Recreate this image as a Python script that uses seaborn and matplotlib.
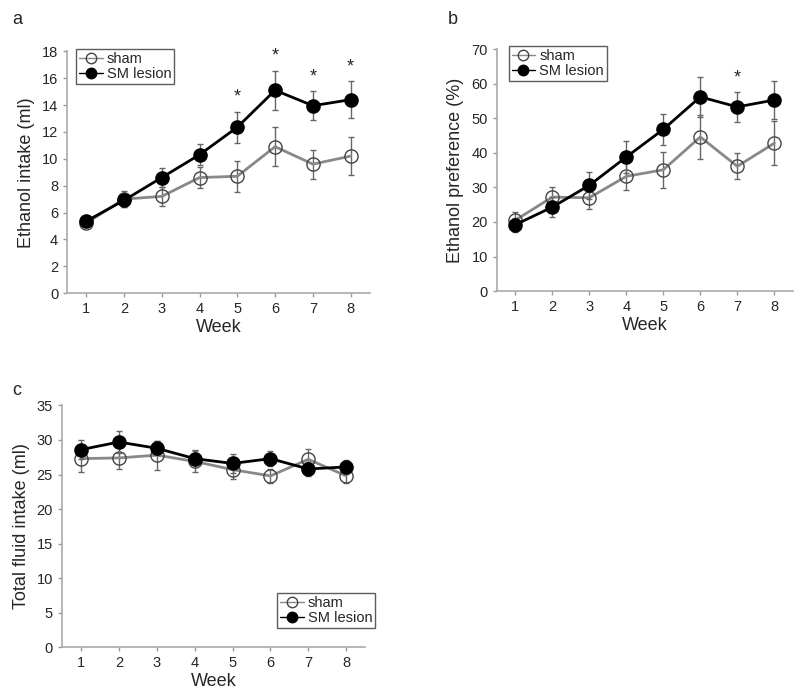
import matplotlib
matplotlib.use("Agg")
import matplotlib.pyplot as plt
from matplotlib.lines import Line2D
import pandas as pd
import seaborn as sns

sns.set_style("ticks")
plt.rcParams["font.family"] = ["Liberation Sans", "DejaVu Sans"]

weeks = [1, 2, 3, 4, 5, 6, 7, 8]
groups = ["sham", "SM lesion"]

# panel a: ethanol intake (ml)
intake_sham = [5.2, 7.0, 7.2, 8.6, 8.7, 10.9, 9.6, 10.2]
intake_sham_err = [0.3, 0.6, 0.7, 0.77, 1.15, 1.45, 1.07, 1.4]
intake_sm = [5.35, 6.9, 8.6, 10.3, 12.35, 15.1, 13.95, 14.4]
intake_sm_err = [0.3, 0.5, 0.7, 0.8, 1.15, 1.45, 1.07, 1.38]
intake_stars = [5, 6, 7, 8]

# panel b: ethanol preference (%)
pref_sham = [20.5, 27.2, 27.0, 33.2, 35.1, 44.6, 36.1, 42.8]
pref_sham_err = [2.3, 3.0, 3.2, 4.0, 5.2, 6.5, 3.8, 6.3]
pref_sm = [19.2, 24.3, 30.6, 38.8, 46.8, 56.2, 53.3, 55.3]
pref_sm_err = [2.0, 2.8, 4.0, 4.6, 4.5, 5.8, 4.3, 5.4]
pref_stars = [7]

# panel c: total fluid intake (ml)
fluid_sham = [27.3, 27.4, 27.8, 26.9, 25.7, 24.8, 27.2, 24.8]
fluid_sham_err = [1.9, 1.6, 2.1, 1.5, 1.3, 1.0, 1.5, 1.1]
fluid_sm = [28.6, 29.7, 28.8, 27.3, 26.6, 27.3, 25.8, 26.1]
fluid_sm_err = [1.4, 1.6, 1.0, 1.2, 1.4, 1.1, 1.0, 1.0]

styles = {
    "sham": dict(color="#888888", mfc="none", mec="#444444", zorder=2),
    "SM lesion": dict(color="black", mfc="black", mec="black", zorder=3),
}


def make_df(sham, sham_err, sm, sm_err):
    return pd.DataFrame({
        "week": weeks * 2,
        "group": [groups[0]] * 8 + [groups[1]] * 8,
        "value": sham + sm,
        "err": sham_err + sm_err,
    })


def panel(ax, df, ylim, yticks, ylabel, stars, legend_loc):
    for g in groups:
        d = df[df["group"] == g]
        st = styles[g]
        ax.errorbar(d["week"], d["value"], yerr=d["err"], fmt="none",
                    ecolor="#666666", elinewidth=1, capsize=2.5, capthick=1,
                    zorder=st["zorder"] - 0.5)
        sns.lineplot(data=d, x="week", y="value", ax=ax, color=st["color"],
                     linewidth=2.0, marker="o", markersize=9.5,
                     markerfacecolor=st["mfc"], markeredgecolor=st["mec"],
                     markeredgewidth=1, zorder=st["zorder"], legend=False)
    sm = df[df["group"] == "SM lesion"].set_index("week")
    for w in stars:
        top = sm.loc[w, "value"] + sm.loc[w, "err"]
        ax.text(w, top + (ylim[1] - ylim[0]) * 0.025, "*", ha="center",
                va="bottom", fontsize=13)
    ax.set_xlim(0.5, 8.5)
    ax.set_ylim(*ylim)
    ax.set_xticks(weeks)
    ax.set_yticks(yticks)
    ax.tick_params(labelsize=10.5, length=3, color="#999999", width=1)
    for s in ["left", "bottom"]:
        ax.spines[s].set_color("#aaaaaa")
        ax.spines[s].set_linewidth(1.2)
    sns.despine(ax=ax)
    ax.set_xlabel("Week", fontsize=13, labelpad=2)
    ax.set_ylabel(ylabel, fontsize=13, labelpad=5)
    handles = [Line2D([], [], color=styles[g]["color"], linewidth=1,
                      marker="o", markersize=7.5,
                      markerfacecolor=styles[g]["mfc"],
                      markeredgecolor=styles[g]["mec"]) for g in groups]
    leg = ax.legend(handles, groups, loc=legend_loc, fontsize=10.5,
                    frameon=True, fancybox=False, handlelength=1.6,
                    handletextpad=0.3, borderpad=0.2, labelspacing=0.05,
                    borderaxespad=0.1)
    leg.get_frame().set_edgecolor("#333333")
    leg.get_frame().set_linewidth(1)


fig = plt.figure(figsize=(8.0, 6.93), dpi=100)
ax_a = fig.add_axes([0.084, 0.577, 0.378, 0.349])
ax_b = fig.add_axes([0.621, 0.580, 0.370, 0.349])
ax_c = fig.add_axes([0.0775, 0.066, 0.379, 0.349])

panel(ax_a, make_df(intake_sham, intake_sham_err, intake_sm, intake_sm_err),
      (0, 18), range(0, 19, 2), "Ethanol intake (ml)", intake_stars,
      (0.03, 0.865))
panel(ax_b, make_df(pref_sham, pref_sham_err, pref_sm, pref_sm_err),
      (0, 70), range(0, 71, 10), "Ethanol preference (%)", pref_stars,
      (0.04, 0.87))
panel(ax_c, make_df(fluid_sham, fluid_sham_err, fluid_sm, fluid_sm_err),
      (0, 35), range(0, 36, 5), "Total fluid intake (ml)", [],
      (0.71, 0.08))

fig.text(0.015, 0.965, "a", fontsize=13)
fig.text(0.56, 0.965, "b", fontsize=13)
fig.text(0.015, 0.43, "c", fontsize=13)

fig.savefig("out.png", dpi=100)
